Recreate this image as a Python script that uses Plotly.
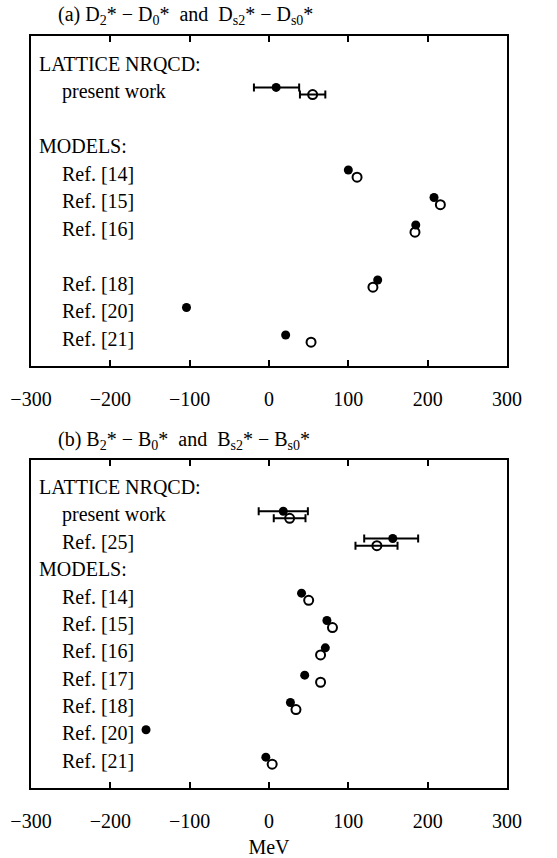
import plotly.graph_objects as go

# ---------------- data ----------------
# panel (a): D2* - D0* (filled) and Ds2* - Ds0* (open)
rows_a = ["LATTICE NRQCD:", "present work", "", "MODELS:", "Ref. [14]", "Ref. [15]",
          "Ref. [16]", "", "Ref. [18]", "Ref. [20]", "Ref. [21]"]
filled_a = [None, 9, None, None, 100, 208, 185, None, 137, -104, 21]
filled_a_plus = [None, 29, None, None, 0, 0, 0, None, 0, 0, 0]
filled_a_minus = [None, 28, None, None, 0, 0, 0, None, 0, 0, 0]
open_a = [None, 55, None, None, 111, 216, 184, None, 131, None, 53]
open_a_plus = [None, 16, None, None, 0, 0, 0, None, 0, 0, 0]
open_a_minus = [None, 16, None, None, 0, 0, 0, None, 0, 0, 0]

# panel (b): B2* - B0* (filled) and Bs2* - Bs0* (open)
rows_b = ["LATTICE NRQCD:", "present work", "Ref. [25]", "MODELS:", "Ref. [14]", "Ref. [15]",
          "Ref. [16]", "Ref. [17]", "Ref. [18]", "Ref. [20]", "Ref. [21]"]
filled_b = [None, 18, 156, None, 41, 73, 71, 45, 27, -155, -4]
filled_b_plus = [None, 31, 32, None, 0, 0, 0, 0, 0, 0, 0]
filled_b_minus = [None, 31, 36, None, 0, 0, 0, 0, 0, 0, 0]
open_b = [None, 26, 136, None, 50, 80, 65, 65, 34, None, 4]
open_b_plus = [None, 20, 26, None, 0, 0, 0, 0, 0, 0, 0]
open_b_minus = [None, 20, 27, None, 0, 0, 0, 0, 0, 0, 0]

headings = {"LATTICE NRQCD:", "MODELS:"}
x_ticks = [-300, -200, -100, 0, 100, 200, 300]
titles = ["(a) D<sub>2</sub>* − D<sub>0</sub>*  and  D<sub>s2</sub>* − D<sub>s0</sub>*",
          "(b) B<sub>2</sub>* − B<sub>0</sub>*  and  B<sub>s2</sub>* − B<sub>s0</sub>*"]

FONT = "Liberation Serif"
FS = 20
OFF = 0.13

fig = go.Figure()

panels = [
    (rows_a, filled_a, filled_a_plus, filled_a_minus, open_a, open_a_plus, open_a_minus, "x", "y"),
    (rows_b, filled_b, filled_b_plus, filled_b_minus, open_b, open_b_plus, open_b_minus, "x2", "y2"),
]


def add_series(vals, plus, minus, yshift, marker, xa, ya):
    idx = [i for i, v in enumerate(vals) if v is not None]
    with_err = [i for i in idx if (plus[i] or minus[i])]
    no_err = [i for i in idx if not (plus[i] or minus[i])]
    if with_err:
        fig.add_trace(go.Scatter(
            x=[vals[i] for i in with_err], y=[i + yshift for i in with_err],
            mode="markers", xaxis=xa, yaxis=ya, marker=marker,
            error_x=dict(type="data", array=[plus[i] for i in with_err],
                         arrayminus=[minus[i] for i in with_err], symmetric=False,
                         color="black", thickness=2, width=4),
            showlegend=False))
    if no_err:
        fig.add_trace(go.Scatter(
            x=[vals[i] for i in no_err], y=[i + yshift for i in no_err],
            mode="markers", xaxis=xa, yaxis=ya, marker=marker, showlegend=False))


annotations = []
for (rows, fv, fp, fm, ov, op, om, xa, ya) in panels:
    add_series(fv, fp, fm, -OFF, dict(symbol="circle", size=9, color="black"), xa, ya)
    add_series(ov, op, om, OFF,
               dict(symbol="circle-open", size=9, color="black", line=dict(width=2, color="black")),
               xa, ya)
    for i, lab in enumerate(rows):
        if not lab:
            continue
        annotations.append(dict(
            x=-292.5 if lab in headings else -263.5, y=i, xref=xa, yref=ya,
            text=lab, showarrow=False, xanchor="left", yanchor="middle",
            font=dict(family=FONT, size=FS, color="black")))

annotations.append(dict(x=0.0, y=1.0, xref="paper", yref="paper", yanchor="bottom",
                        xanchor="left", yshift=6, xshift=25, text=titles[0], showarrow=False,
                        font=dict(family=FONT, size=FS, color="black")))
annotations.append(dict(x=0.0, y=0.435, xref="paper", yref="paper", yanchor="bottom",
                        xanchor="left", yshift=6, xshift=25, text=titles[1], showarrow=False,
                        font=dict(family=FONT, size=FS, color="black")))

xcommon = dict(range=[-300, 300], tickvals=x_ticks, ticks="inside", ticklen=6, tickwidth=2,
               tickcolor="black", showline=True, linecolor="black", linewidth=2,
               mirror="ticks", showgrid=False, zeroline=False, automargin=False,
               tickfont=dict(family=FONT, size=FS, color="black"), ticklabelstandoff=14)
ycommon = dict(range=[11, -1], showticklabels=False, ticks="", showline=True, automargin=False,
               linecolor="black", linewidth=2, mirror=True, showgrid=False, zeroline=False)

fig.update_layout(
    width=557, height=858,
    margin=dict(l=31, r=50, t=36, b=70),
    paper_bgcolor="white", plot_bgcolor="white",
    xaxis=dict(**xcommon, anchor="y"),
    yaxis=dict(**ycommon, domain=[0.561, 1.0], anchor="x"),
    xaxis2=dict(**xcommon, anchor="y2",
                title=dict(text="MeV", font=dict(family=FONT, size=FS, color="black"), standoff=10)),
    yaxis2=dict(**ycommon, domain=[0.0, 0.436], anchor="x2"),
    annotations=annotations,
    font=dict(family=FONT, size=FS, color="black"),
)

fig.write_html("out.html")
